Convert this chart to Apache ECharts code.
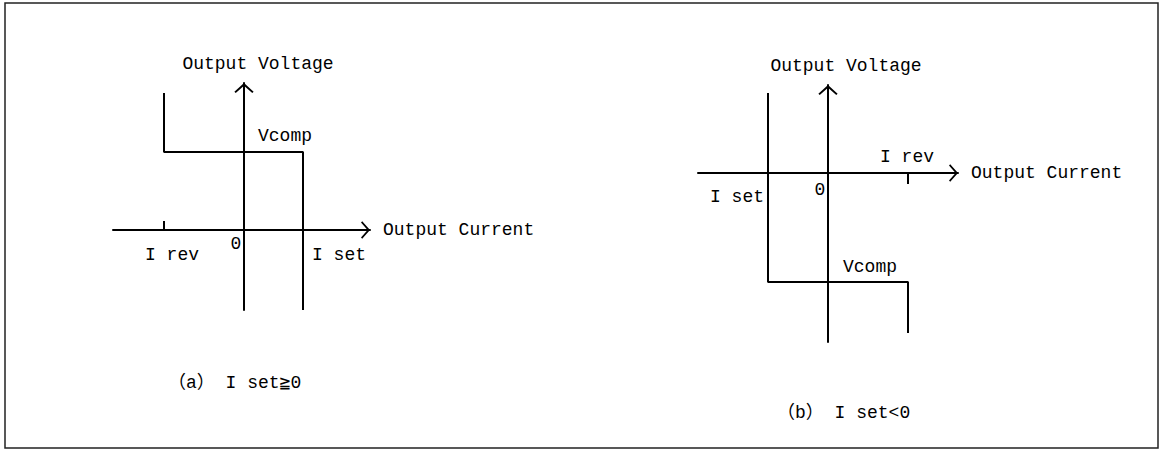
<!DOCTYPE html>
<html>
<head>
<meta charset="utf-8">
<script src="https://cdn.jsdelivr.net/npm/echarts@6/dist/echarts.min.js"></script>
<style>
    html, body { margin: 0; padding: 0; background: #fff; }
    #chart { width: 1162px; height: 450px; }
</style>
</head>
<body>
<div id="chart"></div>
<script>
//-- panel (a): Iset >= 0  (current, voltage in arbitrary units)
let stepA = [[-8, 13.7], [-8, 7.8], [5.9, 7.8], [5.9, -8]];
let irevTickA = [[-8, 0], [-8, 0.9]];
let labelsA = ['I rev', 'I set', 'Vcomp', '0'];
let rangeAX = [-13.1, 12.6];
let rangeAY = [-8, 14.7];

//-- panel (b): Iset < 0
let stepB = [[-6, 8], [-6, -10.9], [8, -10.9], [8, -16]];
let irevTickB = [[8, 0], [8, -1.1]];
let labelsB = ['I rev', 'I set', 'Vcomp', '0'];
let rangeBX = [-13, 13];
let rangeBY = [-16.9, 8.8];

let axisNames = ['Output Current', 'Output Voltage'];
let captions = ['（a） I set≧0', '（b） I set<0'];

let font = "'Liberation Mono', 'DejaVu Sans Mono', 'Noto Sans CJK JP', monospace";
// open chevron, drawn pointing up, echarts rotates it onto the axis
let chevron = 'path://M0,9 L10,0 L20,9 L18.6,10.4 L10,2.8 L1.4,10.4 Z';

function xAxisFor(idx, range, nameShift) {
    return {
        type: 'value', gridIndex: idx, min: range[0], max: range[1],
        name: axisNames[0], nameLocation: 'end', nameGap: 13,
        nameTextStyle: { color: '#000', fontSize: 18, fontFamily: font, padding: [nameShift, 0, 0, 0] },
        axisLine: { show: true, onZero: true, symbol: ['none', chevron], symbolSize: [18, 9], symbolOffset: [0, -4.5],
            lineStyle: { color: '#000', width: 2 } },
        axisTick: { show: false }, axisLabel: { show: false }, splitLine: { show: false }
    };
}
function yAxisFor(idx, range, nameShift) {
    return {
        type: 'value', gridIndex: idx, min: range[0], max: range[1],
        name: axisNames[1], nameLocation: 'end', nameGap: 10,
        nameTextStyle: { color: '#000', fontSize: 18, fontFamily: font, padding: [0, 0, 0, nameShift] },
        axisLine: { show: true, onZero: true, symbol: ['none', chevron], symbolSize: [20, 10], symbolOffset: [0, -5],
            lineStyle: { color: '#000', width: 2 } },
        axisTick: { show: false }, axisLabel: { show: false }, splitLine: { show: false }
    };
}
function lineSeries(idx, data) {
    return {
        type: 'line', xAxisIndex: idx, yAxisIndex: idx, data: data,
        symbol: 'none', silent: true, animation: false,
        lineStyle: { color: '#000', width: 2 }
    };
}
function labelSeries(idx, names, anchors, offsets) {
    let pts = [];
    for (let i = 0; i < names.length; i++) {
        pts.push({ name: names[i], value: anchors[i], label: { offset: offsets[i] } });
    }
    return {
        type: 'scatter', xAxisIndex: idx, yAxisIndex: idx, data: pts,
        symbol: 'circle', symbolSize: 1, itemStyle: { color: '#fff', opacity: 0 }, silent: true, animation: false,
        label: { show: true, position: 'inside', formatter: function (p) { return p.name; },
            color: '#000', opacity: 1, textBorderWidth: 0, fontSize: 18, fontFamily: font }
    };
}

//-- label anchors come from the curve values, offsets are only layout
let anchorsA = [[stepA[0][0], 0], [stepA[2][0], 0], [0, stepA[1][1]], [0, 0]];
let anchorsB = [[stepB[2][0], 0], [stepB[0][0], 0], [0, stepB[1][1]], [0, 0]];
let offsetsA = [[8, 25], [36, 25], [41, -16], [-8, 14]];
let offsetsB = [[-1, -16], [-31, 24], [42, -15], [-8, 17]];

let chart = echarts.init(document.getElementById('chart'), null, { renderer: 'svg' });
let option = {
    backgroundColor: '#fff',
    animation: false,
    title: [
        { text: captions[0], left: 163, top: 369, textStyle: { color: '#000', fontSize: 18, fontWeight: 'normal', fontFamily: font } },
        { text: captions[1], left: 772, top: 399, textStyle: { color: '#000', fontSize: 18, fontWeight: 'normal', fontFamily: font } }
    ],
    graphic: [{
        type: 'rect', silent: true,
        shape: { x: 5, y: 3, width: 1153, height: 445 },
        style: { fill: 'none', stroke: '#222', lineWidth: 1.5 }
    }],
    grid: [
        { left: 113, top: 83, width: 257, height: 227 },
        { left: 698, top: 85, width: 260, height: 257 }
    ],
    xAxis: [xAxisFor(0, rangeAX, 12), xAxisFor(1, rangeBX, 10)],
    yAxis: [yAxisFor(0, rangeAY, 28), yAxisFor(1, rangeBY, 36)],
    series: [
        lineSeries(0, stepA),
        lineSeries(0, irevTickA),
        labelSeries(0, labelsA, anchorsA, offsetsA),
        lineSeries(1, stepB),
        lineSeries(1, irevTickB),
        labelSeries(1, labelsB, anchorsB, offsetsB)
    ]
};
chart.setOption(option);
</script>
</body>
</html>
